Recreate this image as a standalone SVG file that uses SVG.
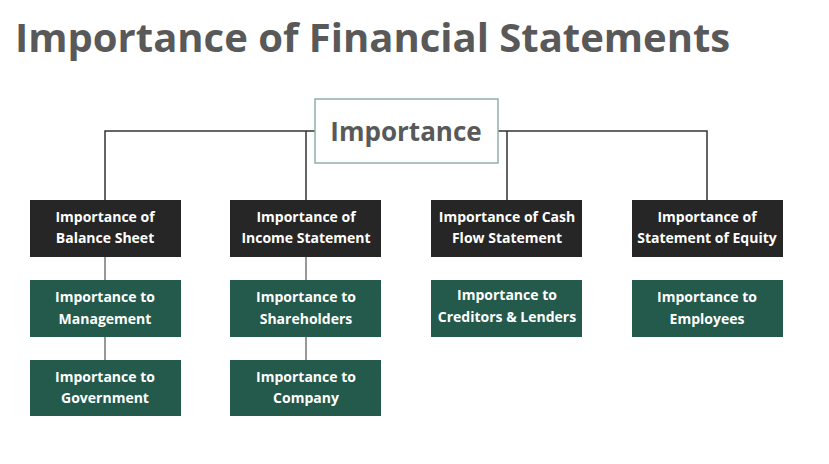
<svg xmlns="http://www.w3.org/2000/svg" width="829" height="464" viewBox="0 0 829 464">
<style>
.t{font-family:"Open Sans","Liberation Sans",sans-serif;font-weight:bold;fill:#fff;font-size:14px;text-anchor:middle}
.dk{fill:#262626}
.gr{fill:#245a4c}
.ln{stroke:#333;stroke-width:1.5;fill:none}
.lg{stroke:#777;stroke-width:1.5;fill:none}
</style>
<rect width="829" height="464" fill="#fff"/>
<text x="15" y="52" font-family="Open Sans,Liberation Sans,sans-serif" font-weight="bold" font-size="40" fill="#595959">Importance of Financial Statements</text>
<g id="connectors">
<path class="ln" d="M105 200V131H315M498 131H707V200M306 131V200M507 131V200"/>
<path class="lg" d="M105 257V280M105 337V360M306 257V280M306 337V360"/>
</g>
<g id="root"><rect x="315" y="99" width="183" height="64" fill="#fff" stroke="#8fb0a8" stroke-width="1.5"/><text x="406" y="141" font-family="Open Sans,Liberation Sans,sans-serif" font-weight="bold" font-size="26" fill="#595959" text-anchor="middle">Importance</text></g>
<g id="n1"><rect class="dk" x="30" y="200" width="151" height="57"/><text class="t" x="105" y="222">Importance of</text><text class="t" x="105" y="243">Balance Sheet</text></g>
<g id="n2"><rect class="dk" x="230" y="200" width="151" height="57"/><text class="t" x="306" y="222">Importance of</text><text class="t" x="306" y="243">Income Statement</text></g>
<g id="n3"><rect class="dk" x="431" y="200" width="151" height="57"/><text class="t" x="507" y="222">Importance of Cash</text><text class="t" x="507" y="243">Flow Statement</text></g>
<g id="n4"><rect class="dk" x="632" y="200" width="151" height="57"/><text class="t" x="707" y="222">Importance of</text><text class="t" x="707" y="243">Statement of Equity</text></g>
<g id="g1"><rect class="gr" x="30" y="280" width="151" height="57"/><text class="t" x="105" y="302">Importance to</text><text class="t" x="105" y="324">Management</text></g>
<g id="g2"><rect class="gr" x="230" y="280" width="151" height="57"/><text class="t" x="306" y="302">Importance to</text><text class="t" x="306" y="324">Shareholders</text></g>
<g id="g3"><rect class="gr" x="431" y="280" width="151" height="57"/><text class="t" x="507" y="300">Importance to</text><text class="t" x="507" y="322">Creditors &amp; Lenders</text></g>
<g id="g4"><rect class="gr" x="632" y="280" width="151" height="57"/><text class="t" x="707" y="302">Importance to</text><text class="t" x="707" y="324">Employees</text></g>
<g id="g5"><rect class="gr" x="30" y="360" width="151" height="56"/><text class="t" x="105" y="382">Importance to</text><text class="t" x="105" y="403">Government</text></g>
<g id="g6"><rect class="gr" x="230" y="360" width="151" height="56"/><text class="t" x="306" y="382">Importance to</text><text class="t" x="306" y="403">Company</text></g>
</svg>
